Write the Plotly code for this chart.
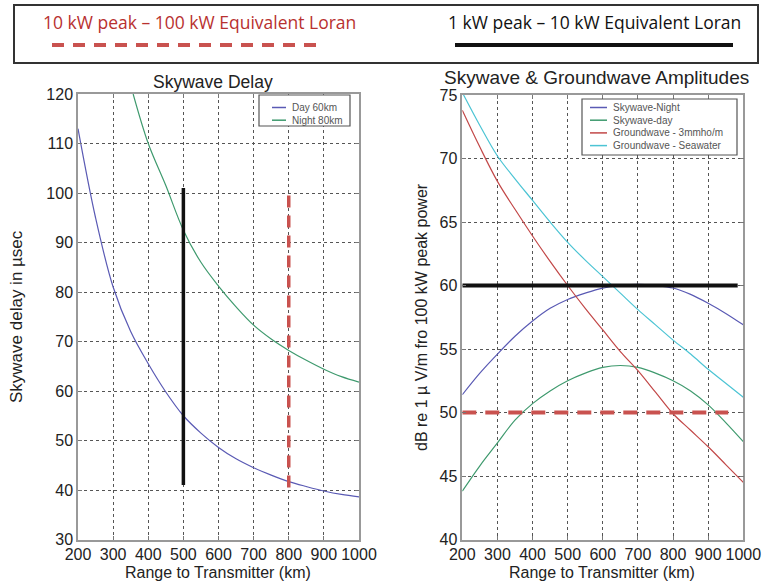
import plotly.graph_objects as go

# ---------------- data ----------------
range_km = [200, 250, 300, 350, 400, 450, 500, 550, 600, 650, 700, 750, 800, 850, 900, 950, 1000]

day_60km = [113, 95, 81, 72, 65.5, 59.8, 55, 51.5, 48.6, 46.3, 44.5, 43, 41.7, 40.7, 39.8, 39.1, 38.6]
night_range = [357, 400, 450, 500, 550, 600, 650, 700, 750, 800, 850, 900, 950, 1000]
night_80km = [120, 110, 101.5, 92.5, 86, 81.2, 77, 73.3, 70.5, 68.2, 66.2, 64.4, 62.9, 61.8]

sky_night = [51.4, 53.1, 54.6, 56.0, 57.2, 58.2, 58.9, 59.4, 59.8, 60.0, 60.1, 60.0, 59.8, 59.3, 58.6, 57.8, 56.9]
sky_day = [43.8, 45.8, 47.6, 49.4, 50.7, 51.7, 52.5, 53.1, 53.55, 53.7, 53.55, 53.1, 52.5, 51.7, 50.6, 49.2, 47.7]
ground_3mmho = [73.8, 70.9, 68.2, 66.0, 63.9, 61.9, 60.0, 58.2, 56.5, 54.8, 53.3, 51.6, 49.9, 48.6, 47.3, 45.9, 44.5]
ground_sea = [75.2, 72.6, 70.2, 68.4, 66.7, 65.0, 63.4, 62.0, 60.7, 59.4, 58.1, 56.9, 55.7, 54.6, 53.4, 52.3, 51.2]

# threshold markers
kw1_range_x = [500, 500]
kw1_range_y = [41, 101]
kw10_range_x = [800, 800]
kw10_range_y = [40.5, 99.5]
kw1_amp_x = [200, 984]
kw1_amp_y = [60, 60]
kw10_amp_x = [200, 957]
kw10_amp_y = [50, 50]

x_ticks = [200, 300, 400, 500, 600, 700, 800, 900, 1000]
left_y_ticks = [30, 40, 50, 60, 70, 80, 90, 100, 110, 120]
right_y_ticks = [40, 45, 50, 55, 60, 65, 70, 75]

left_names = ["Day 60km", "Night 80km"]
right_names = ["Skywave-Night", "Skywave-day", "Groundwave - 3mmho/m", "Groundwave - Seawater"]

legend_top_red = "10 kW peak \u2013 100 kW Equivalent Loran"
legend_top_black = "1 kW peak \u2013 10 kW Equivalent Loran"

BLUE = "#5a5ab4"
GREEN = "#3f9a6e"
RED = "#c24848"
CYAN = "#4cc4d4"
DASHRED = "#c9524f"

left_colors = [BLUE, GREEN]
right_colors = [BLUE, GREEN, RED, CYAN]

fig = go.Figure()

# left plot
fig.add_trace(go.Scatter(x=range_km, y=day_60km, mode="lines", name=left_names[0],
                         line=dict(color=BLUE, width=1.2, shape="spline"), xaxis="x", yaxis="y"))
fig.add_trace(go.Scatter(x=night_range, y=night_80km, mode="lines", name=left_names[1],
                         line=dict(color=GREEN, width=1.2, shape="spline"), xaxis="x", yaxis="y"))
fig.add_trace(go.Scatter(x=kw1_range_x, y=kw1_range_y, mode="lines",
                         line=dict(color="#111111", width=3.5), xaxis="x", yaxis="y"))
fig.add_trace(go.Scatter(x=kw10_range_x, y=kw10_range_y, mode="lines",
                         line=dict(color=DASHRED, width=3.5, dash="12px,8px"), xaxis="x", yaxis="y"))

# right plot
for name, vals, col in zip(right_names, [sky_night, sky_day, ground_3mmho, ground_sea], right_colors):
    fig.add_trace(go.Scatter(x=range_km, y=vals, mode="lines", name=name,
                             line=dict(color=col, width=1.2, shape="spline"), xaxis="x2", yaxis="y2"))
fig.add_trace(go.Scatter(x=kw1_amp_x, y=kw1_amp_y, mode="lines",
                         line=dict(color="#111111", width=4), xaxis="x2", yaxis="y2"))
fig.add_trace(go.Scatter(x=kw10_amp_x, y=kw10_amp_y, mode="lines",
                         line=dict(color=DASHRED, width=4, dash="14px,9px"), xaxis="x2", yaxis="y2"))

TICKFONT = dict(family="Liberation Sans, Arial, sans-serif", size=16, color="#222")
axis_common = dict(showgrid=True, gridcolor="#555", griddash="dot", gridwidth=1,
                   showline=True, linecolor="#999", linewidth=1.5, mirror="allticks",
                   ticks="inside", ticklen=4, tickcolor="#777",
                   zeroline=False, tickfont=TICKFONT, automargin=False)

W, H = 762, 584
fig.update_layout(
    width=W, height=H,
    margin=dict(l=0, r=0, t=0, b=0, pad=0, autoexpand=False),
    paper_bgcolor="white", plot_bgcolor="white",
    showlegend=False,
    xaxis=dict(domain=[78 / W, 359 / W], range=[200, 1000], tickvals=x_ticks,
               anchor="y", **axis_common),
    yaxis=dict(domain=[1 - 539.5 / H, 1 - 94 / H], range=[30, 120], tickvals=left_y_ticks,
               anchor="x", **axis_common),
    xaxis2=dict(domain=[462.3 / W, 743.3 / W], range=[200, 1000], tickvals=x_ticks,
                anchor="y2", **axis_common),
    yaxis2=dict(domain=[1 - 539.5 / H, 1 - 95 / H], range=[40, 75], tickvals=right_y_ticks,
                anchor="x2", **axis_common),
)

anns = [
    dict(text="Skywave Delay", x=213 / W, y=1 - 82 / H,
         font=dict(family="Liberation Sans, Arial, sans-serif", size=17.5, color="#222")),
    dict(text="Skywave & Groundwave Amplitudes", x=596 / W, y=1 - 78 / H,
         font=dict(family="Liberation Sans, Arial, sans-serif", size=19, color="#222")),
    dict(text="Range to Transmitter (km)", x=218 / W, y=1 - 572 / H,
         font=dict(family="Liberation Sans, Arial, sans-serif", size=16, color="#222")),
    dict(text="Range to Transmitter (km)", x=602 / W, y=1 - 572 / H,
         font=dict(family="Liberation Sans, Arial, sans-serif", size=16, color="#222")),
    dict(text="Skywave delay in \u00b5sec", x=16 / W, y=1 - 317 / H, textangle=-90,
         font=dict(family="Liberation Sans, Arial, sans-serif", size=17, color="#222")),
    dict(text="dB re 1 \u00b5 V/m fro 100 kW peak power", x=421 / W, y=1 - 317 / H, textangle=-90,
         font=dict(family="Liberation Sans, Arial, sans-serif", size=16, color="#222")),
    dict(text=legend_top_red, x=199 / W, y=1 - 22 / H,
         font=dict(family="Open Sans, sans-serif", size=17.5, color="#b8312f")),
    dict(text=legend_top_black, x=594.5 / W, y=1 - 22 / H,
         font=dict(family="Open Sans, sans-serif", size=17.5, color="#111")),
]
for a in anns:
    a.update(xref="paper", yref="paper", showarrow=False, xanchor="center", yanchor="middle")

shapes = [
    dict(type="rect", xref="paper", yref="paper", x0=14 / W, x1=758 / W, y0=1 - 63 / H, y1=1 - 5 / H,
         line=dict(color="#333", width=2), fillcolor="rgba(0,0,0,0)"),
    dict(type="line", xref="paper", yref="paper", x0=52 / W, x1=322 / W, y0=1 - 45 / H, y1=1 - 45 / H,
         line=dict(color=DASHRED, width=4, dash="12px,9px")),
    dict(type="line", xref="paper", yref="paper", x0=455 / W, x1=733 / W, y0=1 - 45 / H, y1=1 - 45 / H,
         line=dict(color="#111", width=4)),
]

# legend boxes (matlab-style), built from the series names and colours
LEGFONT = dict(family="Liberation Sans, Arial, sans-serif", size=10, color="#555")


def add_legend(names, colors, box, line_x, text_x, row_y0, row_dy):
    x0, x1, y0, y1 = box
    shapes.append(dict(type="rect", xref="paper", yref="paper", x0=x0 / W, x1=x1 / W,
                       y0=1 - y1 / H, y1=1 - y0 / H, line=dict(color="#555", width=1.2),
                       fillcolor="white", layer="above"))
    for i, (n, c) in enumerate(zip(names, colors)):
        yy = row_y0 + i * row_dy
        shapes.append(dict(type="line", xref="paper", yref="paper", x0=line_x[0] / W, x1=line_x[1] / W,
                           y0=1 - yy / H, y1=1 - yy / H, line=dict(color=c, width=1.5), layer="above"))
        anns.append(dict(text=n, x=text_x / W, y=1 - yy / H, xref="paper", yref="paper",
                         showarrow=False, xanchor="left", yanchor="middle", font=LEGFONT))


add_legend(left_names, left_colors, (259, 350, 95, 126), (272, 286), 290, 107.5, 12.7)
add_legend(right_names, right_colors, (582, 737, 99, 155), (590, 607), 611, 107.5, 12.7)

fig.update_layout(annotations=anns, shapes=shapes)

fig.write_html("out.html")
